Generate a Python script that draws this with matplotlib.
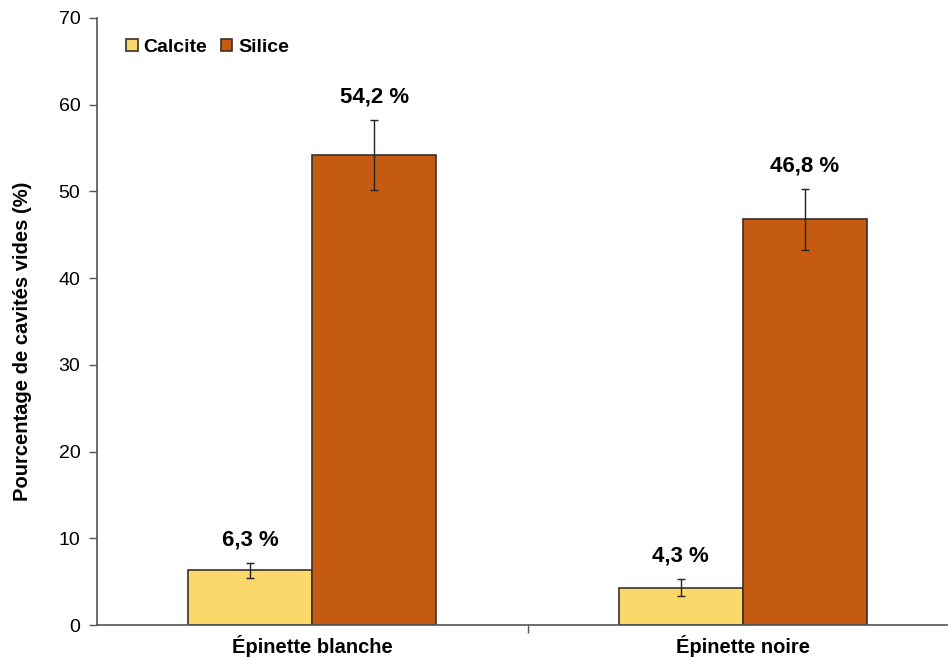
import numpy as np
from matplotlib import pyplot as plt

plt.rcParams['font.family'] = ['Liberation Sans', 'DejaVu Sans']

categories = ["Épinette blanche", "Épinette noire"]
series = ["Calcite", "Silice"]
calcite = [6.3, 4.3]
silice = [54.2, 46.8]
calcite_err = [0.9, 1.0]
silice_err = [4.0, 3.5]
yticks = [0, 10, 20, 30, 40, 50, 60, 70]

colors = ["#FCD76A", "#C55A11"]
edge = "#3a3028"


def fmt(v):
    return f"{v:.1f}".replace(".", ",") + " %"


fig = plt.figure(figsize=(9.48, 6.6), dpi=100)
ax = fig.add_axes([97 / 948, 1 - 625 / 660, 861 / 948, 607 / 660])

x = np.arange(len(categories))
w = 0.288

for i, (vals, errs) in enumerate([(calcite, calcite_err), (silice, silice_err)]):
    pos = x + (i - 0.5) * w
    ax.bar(pos, vals, width=w, color=colors[i], edgecolor=edge,
           linewidth=1.2, label=series[i], zorder=2)
    ax.errorbar(pos, vals, yerr=errs, fmt="none", ecolor="#222222",
                elinewidth=1.0, capsize=3, capthick=1.0, zorder=3)
    for p, v, e in zip(pos, vals, errs):
        ax.annotate(fmt(v), (p, v + e), xytext=(0, 9), textcoords="offset points",
                    ha="center", va="bottom", fontsize=16, fontweight="bold")

ax.set_xlim(-0.5, 1.5)
ax.set_ylim(0, 70)
ax.set_yticks(yticks)
ax.set_xticks(x)
ax.set_xticklabels(categories, fontsize=14.5, fontweight="bold")
ax.set_xticks([0.5], minor=True)
ax.tick_params(axis="x", which="major", length=0, pad=7)
ax.tick_params(axis="x", which="minor", length=6, width=1, color="#555555")
ax.tick_params(axis="y", labelsize=14, length=6, width=1, color="#555555", pad=6)
ax.set_ylabel("Pourcentage de cavités vides (%)", fontsize=14.5, fontweight="bold")
ax.yaxis.set_label_coords(-0.076, 0.468)

for s in ["top", "right"]:
    ax.spines[s].set_visible(False)
for s in ["left", "bottom"]:
    ax.spines[s].set_color("#555555")
    ax.spines[s].set_linewidth(1.2)

leg = ax.legend(loc="upper left", bbox_to_anchor=(0.02, 0.985), ncol=2, frameon=False,
                prop={"weight": "bold", "size": 14}, handlelength=0.6, handleheight=0.6,
                handletextpad=0.3, columnspacing=0.7, borderaxespad=0.2)

fig.savefig("out.png", dpi=100)
